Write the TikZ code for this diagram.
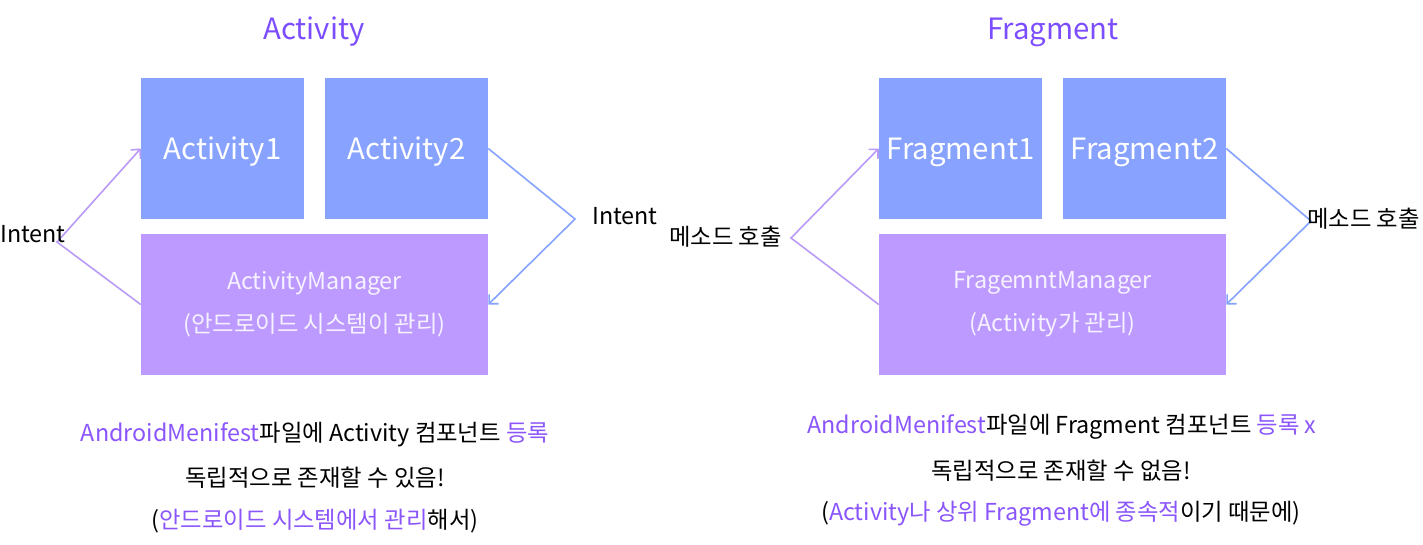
\documentclass[tikz,border=0pt]{standalone}
\usepackage{fontspec}
\setmainfont{Noto Sans CJK KR}
\usetikzlibrary{arrows.meta}
\definecolor{titlepurple}{HTML}{7C4DFF}
\definecolor{markpurple}{HTML}{8A55FB}
\definecolor{boxblue}{HTML}{87A2FF}
\definecolor{mgrpurple}{HTML}{BC9AFF}
\definecolor{mgrtext}{HTML}{F7F2FF}
\definecolor{linepurple}{HTML}{B99AF6}
\definecolor{lineblue}{HTML}{86A2FF}
\newcommand{\hl}[1]{\textcolor{markpurple}{#1}}

\begin{document}
\begin{tikzpicture}[x=.75pt,y=-.75pt,
    title/.style={text=titlepurple,inner sep=0pt,font=\fontsize{22}{26}\selectfont},
    compbox/.style={fill=boxblue,text=white,inner sep=0pt,text depth=0pt,minimum width=122.25pt,minimum height=105.75pt,font=\fontsize{22}{26}\selectfont},
    mgrbox/.style={fill=mgrpurple,text=mgrtext,inner sep=0pt,minimum width=260.25pt,minimum height=105.75pt,align=center,font=\fontsize{17.5}{32}\selectfont},
    callline/.style={line width=1.2pt,-{Straight Barb[length=5pt,width=10pt]}},
    lbl/.style={inner sep=0pt,font=\fontsize{17.5}{22}\selectfont},
    note/.style={inner sep=0pt,font=\fontsize{17.5}{20}\selectfont}]
    \useasboundingbox (0,0) rectangle (1423,544);

    % Activity
    \node[title] (acttitle) at (314,32) {Activity};
    \node[compbox] (act1) at (222.5,148.5) {Activity1};
    \node[compbox] (act2) at (406.5,148.5) {Activity2};
    \node[mgrbox] (actmgr) at (314.5,304.5) {ActivityManager\\(안드로이드 시스템이 관리)};
    \coordinate (actbendL) at (57,242);
    \coordinate (actbendR) at (575,219);
    \draw[callline,linepurple] (actmgr.west) -- (actbendL) -- (act1.west);
    \draw[callline,lineblue] (act2.east) -- (actbendR) -- (actmgr.east);
    \node[lbl,anchor=west] (actintentL) at (0,234) {Intent};
    \node[lbl,anchor=west] (actintentR) at (592,216) {Intent};

    \node[note] (actnote1) at (315,435) {\hl{AndroidMenifest}파일에 Activity 컴포넌트 \hl{등록}};
    \node[note] (actnote2) at (315,478) {독립적으로 존재할 수 있음!};
    \node[note] (actnote3) at (315,521) {(\hl{안드로이드 시스템에서 관리}해서)};

    % Fragment
    \node[title] (fragtitle) at (1053,32) {Fragment};
    \node[compbox] (frag1) at (960.5,148.5) {Fragment1};
    \node[compbox] (frag2) at (1144.5,148.5) {Fragment2};
    \node[mgrbox] (fragmgr) at (1052.5,304.5) {FragemntManager\\(Activity가 관리)};
    \coordinate (fragbendL) at (791,238);
    \coordinate (fragbendR) at (1311,221);
    \draw[callline,linepurple] (fragmgr.west) -- (fragbendL) -- (frag1.west);
    \draw[callline,lineblue] (frag2.east) -- (fragbendR) -- (fragmgr.east);
    \node[lbl,anchor=east] (fragcallL) at (782,237) {메소드 호출};
    \node[lbl,anchor=east] (fragcallR) at (1420,219) {메소드 호출};

    \node[note] (fragnote1) at (1062,427) {\hl{AndroidMenifest}파일에 Fragment 컴포넌트 \hl{등록 x}};
    \node[note] (fragnote2) at (1061,471) {독립적으로 존재할 수 없음!};
    \node[note] (fragnote3) at (1061,514) {(\hl{Activity나 상위 Fragment에 종속적}이기 때문에)};
\end{tikzpicture}
\end{document}
